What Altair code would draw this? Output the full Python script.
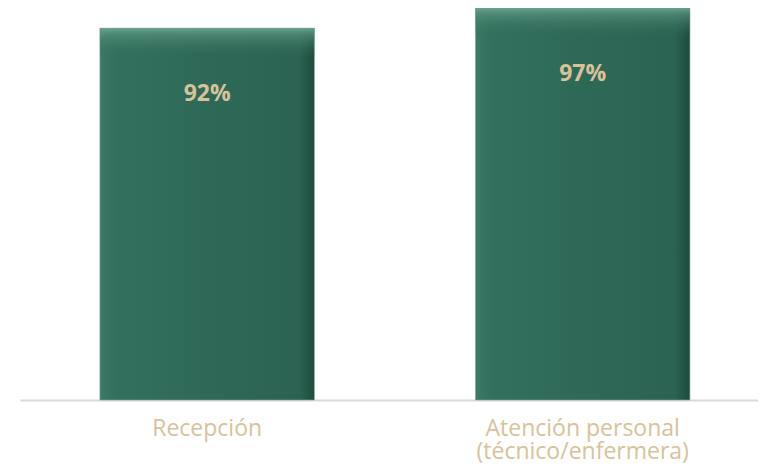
import altair as alt
import pandas as pd

categories = ["Recepción", "Atención personal (técnico/enfermera)"]
values = [92, 97]

df = pd.DataFrame({"cat": categories, "v": values})

x_enc = alt.X("cat:N", sort=categories, title=None,
              scale=alt.Scale(paddingInner=0.4288, paddingOuter=0.197, align=0.54),
              axis=alt.Axis(labelAngle=0, ticks=False, grid=False, domainColor="#d9d9d9",
                            domainWidth=2, labelColor="#d8c29a", labelFont="Open Sans",
                            labelFontSize=23, labelPadding=17, labelLineHeight=23,
                            labelLimit=400,
                            labelExpr="indexof(datum.label,'(')>0 ? [substring(datum.label,0,indexof(datum.label,'(')-1), substring(datum.label,indexof(datum.label,'('))] : datum.label"))
y_scale = alt.Scale(domain=[0, 97], nice=False, zero=True)

base = alt.Chart(df)

main_grad = alt.Gradient(
    gradient="linear", x1=0, x2=1, y1=0, y2=0,
    stops=[alt.GradientStop(offset=0, color="#3b7a66"),
           alt.GradientStop(offset=0.07, color="#33705d"),
           alt.GradientStop(offset=0.5, color="#2e6957"),
           alt.GradientStop(offset=0.93, color="#2b6352"),
           alt.GradientStop(offset=1, color="#1e4a3d")])

main = base.mark_bar(color=main_grad, stroke="#8aa39b", strokeWidth=1, strokeOpacity=0.6).encode(
    x=x_enc,
    y=alt.Y("v:Q", scale=y_scale, axis=None),
)

top_grad = alt.Gradient(
    gradient="linear", x1=0, x2=0, y1=0, y2=1,
    stops=[alt.GradientStop(offset=0, color="rgba(105,165,143,0.95)"),
           alt.GradientStop(offset=0.2, color="rgba(88,148,127,0.7)"),
           alt.GradientStop(offset=1, color="rgba(46,105,87,0)")])

top = base.mark_bar(color=top_grad, y2Offset=30).encode(
    x=x_enc,
    y=alt.Y("v:Q", scale=y_scale),
    y2="v:Q",
)

labels = base.mark_text(dy=66, baseline="middle", font="Open Sans", fontWeight="bold",
                        fontSize=23, color="#d8c29a").encode(
    x=x_enc,
    y=alt.Y("v:Q", scale=y_scale),
    text="lab:N",
).transform_calculate(lab="format(datum.v, '.0f') + '%'")

chart = alt.layer(main, top, labels).properties(
    width=738, height=392,
    padding={"left": 12, "top": 0, "right": 0, "bottom": 64},
    autosize=alt.AutoSizeParams(type="none"),
).configure_view(stroke=None)

chart.save("out.html", embed_options={"renderer": "svg", "actions": False})
